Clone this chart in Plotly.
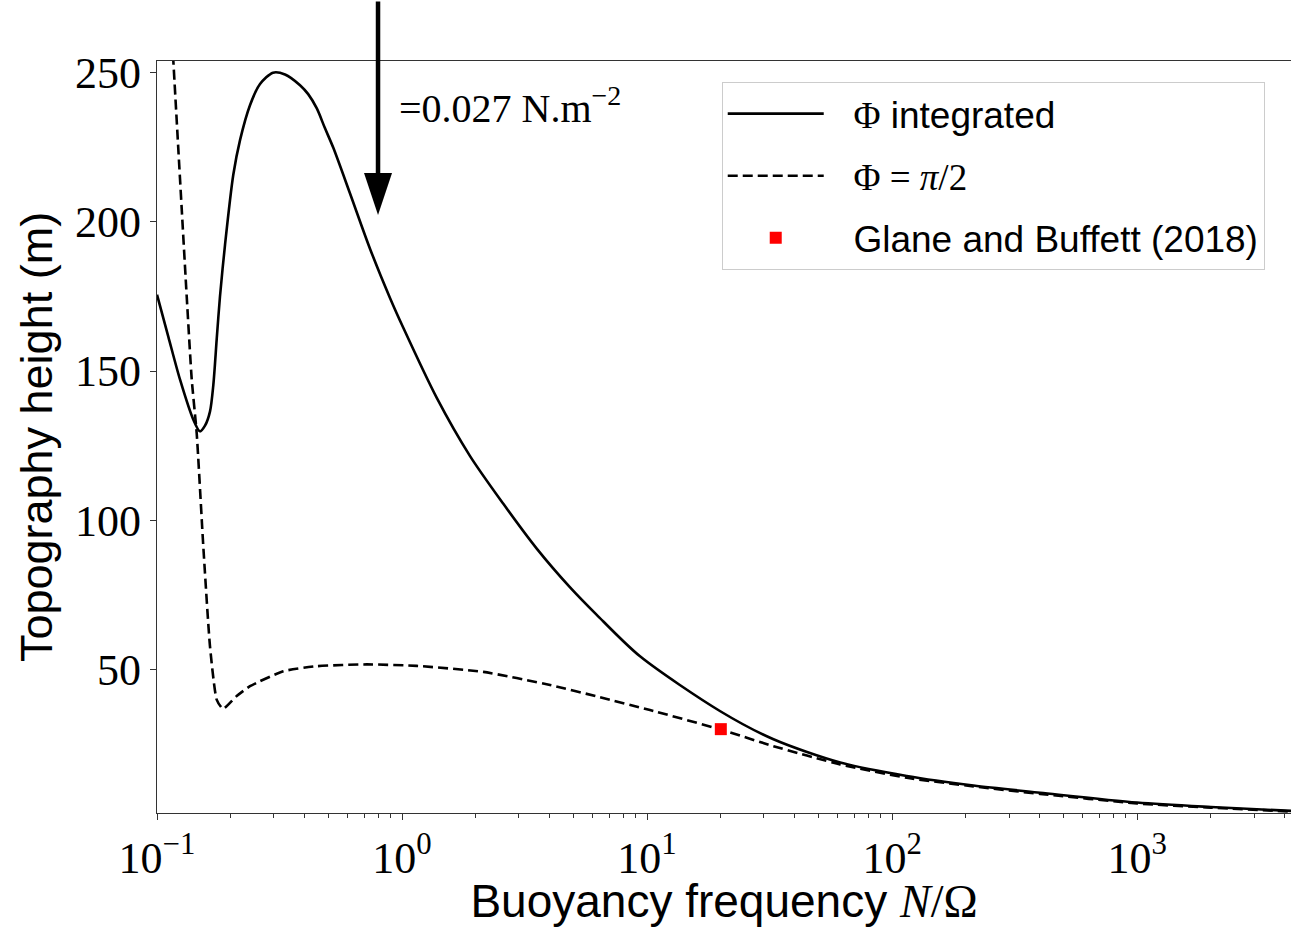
import math
import plotly.graph_objects as go

# ---------------- data ----------------
n_integrated = [0.1, 0.1114, 0.1242, 0.1407, 0.1497, 0.1570, 0.1645, 0.1698, 0.1752, 0.1807,
                0.1895, 0.2048, 0.2182, 0.2396, 0.2633, 0.2975, 0.3330, 0.3835, 0.414, 0.449,
                0.484, 0.5243, 0.6135, 0.740, 0.893, 1.012, 1.386, 1.895, 2.591, 3.546,
                4.851, 6.232, 9.36, 19.9, 32.8, 61.4, 114.8, 214.9, 401.9, 1000,
                2000, 4250]
h_integrated = [175.6, 161.3, 147.1, 133.7, 129.8, 131.7, 136.4, 145.4, 160.5, 174.9,
                192.3, 215.8, 227.4, 239.1, 246.2, 250.0, 249.4, 245.8, 242.8, 238.0,
                231.5, 224.8, 209.5, 191.0, 174.5, 164.5, 141.0, 121.5, 105.5, 90.5,
                77.5, 68.3, 54.4, 36.0, 26.6, 18.8, 14.3, 11.1, 8.7, 5.4,
                3.9, 2.6]

n_halfpi = [0.1099, 0.1166, 0.1322, 0.1386, 0.1452, 0.1545, 0.1645, 0.1752, 0.1859, 0.2115,
            0.2396, 0.3277, 0.449, 0.718, 1.148, 2.148, 4.02, 6.43, 10.28, 19.9,
            32.8, 61.4, 114.8, 214.9, 401.9, 1000, 2000, 4250]
h_halfpi = [291.1, 253.9, 175.0, 147.1, 129.2, 91.3, 57.8, 39.9, 36.8, 41.1,
            44.4, 49.4, 51.1, 51.7, 51.2, 49.2, 44.8, 40.7, 36.4, 29.9,
            24.3, 18.2, 13.7, 10.8, 8.3, 5.1, 3.7, 2.4]

glane_n = [20.0]
glane_h = [30.0]

x_major = [0.1, 1, 10, 100, 1000]
x_major_text = ["10<sup>−1</sup>", "10<sup>0</sup>", "10<sup>1</sup>", "10<sup>2</sup>", "10<sup>3</sup>"]
x_minor = [0.2, 0.3, 0.4, 0.5, 0.6, 0.7, 0.8, 0.9,
           2, 3, 4, 5, 6, 7, 8, 9,
           20, 30, 40, 50, 60, 70, 80, 90,
           200, 300, 400, 500, 600, 700, 800, 900,
           2000, 3000, 4000]
y_ticks = [50, 100, 150, 200, 250]

arrow_n = 0.798      # where the stress arrow points
arrow_h = 202.3
label_n = 0.95
label_h = 239.0

SERIF = "Liberation Serif"
SANS = "Liberation Sans"
GAP = "\u2002\u2006"   # space between legend sample and label

fig = go.Figure()

fig.add_trace(go.Scatter(
    x=n_integrated, y=h_integrated, mode="lines",
    line=dict(color="black", width=2.6, shape="spline", smoothing=0.8),
    name=f"{GAP}<span style='font-family:{SERIF}'>Φ</span> integrated",
    legendgroup="a"))

fig.add_trace(go.Scatter(
    x=n_halfpi, y=h_halfpi, mode="lines",
    line=dict(color="black", width=2.6, dash="10px,5px", shape="spline", smoothing=0.5),
    name=f"{GAP}<span style='font-family:{SERIF}'>Φ = <i>π</i>/2</span>",
    legendgroup="b"))

fig.add_trace(go.Scatter(
    x=glane_n, y=glane_h, mode="markers",
    marker=dict(color="red", size=12, symbol="square"),
    name=f"{GAP}Glane and Buffett (2018)",
    legendgroup="c"))

# arrow shaft (annotation on a log axis takes log10 positions)
fig.add_annotation(x=math.log10(arrow_n), y=arrow_h, xref="x", yref="y", text="",
                   showarrow=True, arrowhead=0, arrowwidth=4.5, arrowcolor="black",
                   ax=0, ay=-240, standoff=20)
# arrow head
fig.add_shape(type="path", xref="x", yref="y", xsizemode="pixel", ysizemode="pixel",
              xanchor=arrow_n, yanchor=arrow_h,
              path="M-14,42 L14,42 L0,0 Z", fillcolor="black", line=dict(width=0))

fig.add_annotation(x=math.log10(label_n), y=label_h, xref="x", yref="y",
                   xanchor="left", yanchor="middle",
                   text="=0.027 N.m<sup>−2</sup>", showarrow=False,
                   font=dict(family=SERIF, size=40, color="black"))

fig.update_layout(
    width=1291, height=927,
    margin=dict(l=157, r=0, t=61, b=114),
    paper_bgcolor="white", plot_bgcolor="white",
    showlegend=True,
    legend=dict(x=0.498, y=0.972, xanchor="left", yanchor="top",
                bgcolor="white", bordercolor="#cccccc", borderwidth=1,
                font=dict(family=SANS, size=37, color="black"),
                itemwidth=96, tracegroupgap=11, traceorder="grouped"),
    font=dict(family=SANS, color="black"),
)

fig.update_xaxes(
    type="log", range=[-1, 3.628],
    showline=True, linecolor="#333333", linewidth=1.3, mirror=True,
    showgrid=False, zeroline=False,
    tickmode="array", tickvals=x_major, ticktext=x_major_text,
    ticks="outside", ticklen=6, tickwidth=1.2, tickcolor="#333333",
    tickfont=dict(family=SERIF, size=44, color="black"),
    minor=dict(tickvals=x_minor, ticks="outside", ticklen=3.5, tickwidth=1, tickcolor="#333333"),
    title=dict(text=f"Buoyancy frequency <span style='font-family:{SERIF}'><i>N</i>/Ω</span>",
               font=dict(family=SANS, size=46, color="black"), standoff=6),
)

fig.update_yaxes(
    range=[1.9, 253.9],
    showline=True, linecolor="#333333", linewidth=1.3, mirror=False,
    showgrid=False, zeroline=False,
    tickmode="array", tickvals=y_ticks, ticktext=[str(v) for v in y_ticks],
    ticks="outside", ticklen=6, tickwidth=1.2, tickcolor="#333333",
    tickfont=dict(family=SERIF, size=44, color="black"),
    title=dict(text="Topography height (m)",
               font=dict(family=SANS, size=45, color="black"), standoff=8),
)

fig.write_html("out.html")
